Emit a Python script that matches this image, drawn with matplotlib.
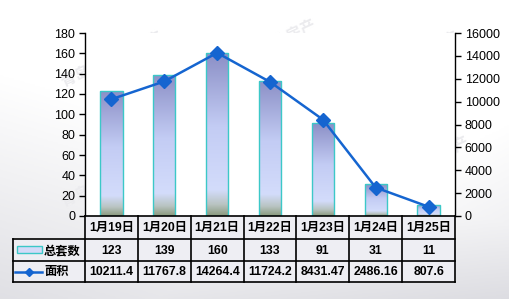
import numpy as np
import matplotlib
matplotlib.use("Agg")
import matplotlib.pyplot as plt
from matplotlib.colors import LinearSegmentedColormap
from matplotlib.patches import Rectangle

plt.rcParams['font.family'] = ['Liberation Sans', 'Noto Sans CJK SC', 'DejaVu Sans']

dates = ["1月19日", "1月20日", "1月21日", "1月22日", "1月23日", "1月24日", "1月25日"]
units = [123, 139, 160, 133, 91, 31, 11]
area = [10211.4, 11767.8, 14264.4, 11724.2, 8431.47, 2486.16, 807.6]
units_labels = ["123", "139", "160", "133", "91", "31", "11"]
area_labels = ["10211.4", "11767.8", "14264.4", "11724.2", "8431.47", "2486.16", "807.6"]
series_names = ["总套数", "面积"]

W, H = 510, 299
fig = plt.figure(figsize=(W / 100, H / 100), dpi=100)
fig.patch.set_facecolor("white")

# background soft gradient
bg = fig.add_axes([0, 0, 1, 1], zorder=-10)
yy, xx = np.mgrid[0:1:200j, 0:1:300j]
g = np.clip(0.6 * yy + 0.3 * (1 - xx) - 0.45, 0, 1) + np.clip(0.6 * yy + 0.5 * xx - 0.75, 0, 1)
g = np.clip(g, 0, 1)
bgcmap = LinearSegmentedColormap.from_list("bg", ["#ffffff", "#d6d6dc"])
bg.imshow(g, cmap=bgcmap, extent=[0, 1, 0, 1], aspect="auto", vmin=0, vmax=0.6, origin="upper")
bg.set_axis_off()

# faint watermarks
for (wx, wy) in [(0.22, 0.80), (0.52, 0.84), (0.80, 0.80), (0.22, 0.40), (0.55, 0.40), (0.82, 0.45)]:
    fig.text(wx, wy, "青岛新闻网 房产", fontsize=11, color="#ebebee", rotation=25,
             ha="center", va="center", family=["Noto Sans CJK SC"], fontweight="bold", zorder=-5)

x0, x1 = 85, 455
ytop, y0 = 33, 216
ax = fig.add_axes([x0 / W, 1 - y0 / H, (x1 - x0) / W, (y0 - ytop) / H])
ax.set_facecolor("white")
n = len(dates)
xs = np.arange(n)
bw = 0.42

bars = ax.bar(xs, units, width=bw, facecolor="none", edgecolor="#3cc8c8", linewidth=1.0, zorder=3)
bcmap = LinearSegmentedColormap.from_list(
    "bar", [(0.0, "#8b8fc6"), (0.45, "#c3ccf4"), (0.84, "#d3dcfb"), (0.93, "#b9c4c2"), (1.0, "#8a9a7e")])
grad = np.linspace(0, 1, 256).reshape(-1, 1)
for b in bars:
    bx, bwid, bh = b.get_x(), b.get_width(), b.get_height()
    im = ax.imshow(grad, cmap=bcmap, extent=[bx, bx + bwid, 0, bh], aspect="auto",
                   origin="upper", zorder=2)
    im.set_clip_path(b)

ax.set_xlim(-0.5, n - 0.5)
ax.set_ylim(0, 180)
ax.set_yticks(np.arange(0, 181, 20))
ax.set_xticks([])
for s in ["top", "right", "bottom"]:
    ax.spines[s].set_visible(False)
ax.spines["left"].set_linewidth(1.0)
ax.tick_params(axis="y", direction="out", length=4, width=1, labelsize=9, pad=3, colors="black")

ax2 = ax.twinx()
ax2.plot(xs, area, color="#1565d0", lw=1.8, marker="D", markersize=7,
         markerfacecolor="#1565d0", markeredgecolor="#1565d0", zorder=5)
ax2.set_ylim(0, 16000)
ax2.set_yticks(np.arange(0, 16001, 2000))
for s in ["top", "left", "bottom"]:
    ax2.spines[s].set_visible(False)
ax2.spines["right"].set_linewidth(1.0)
ax2.tick_params(axis="y", direction="out", length=4, width=1, labelsize=9, pad=3, colors="black")
ax2.set_xlim(-0.5, n - 0.5)

# table
tb = fig.add_axes([0, 0, 1, 1], zorder=5)
tb.set_xlim(0, W)
tb.set_ylim(H, 0)
tb.set_axis_off()
tb.patch.set_alpha(0)

r0, r1, r2, r3 = 216, 239, 261, 282
lx = 13
colw = (x1 - x0) / n
cellc = "#eeeef3"
tb.add_patch(Rectangle((x0, r0), x1 - x0, r3 - r0, facecolor=cellc, edgecolor="none"))
tb.add_patch(Rectangle((lx, r1), x0 - lx, r3 - r1, facecolor=cellc, edgecolor="none"))
lw = 1.2
for yv in [r0, r1, r2, r3]:
    tb.plot([x0 if yv == r0 else lx, x1], [yv, yv], color="black", lw=lw)
for k in range(n + 1):
    xv = x0 + k * colw
    tb.plot([xv, xv], [r0, r3], color="black", lw=lw)
tb.plot([lx, lx], [r1, r3], color="black", lw=lw)

tfs = 8.8
for i in range(n):
    cx = x0 + (i + 0.5) * colw
    tb.text(cx, (r0 + r1) / 2 + 0.5, dates[i], ha="center", va="center", fontsize=tfs, fontweight="bold")
    tb.text(cx, (r1 + r2) / 2 + 0.5, units_labels[i], ha="center", va="center", fontsize=tfs, fontweight="bold")
    tb.text(cx, (r2 + r3) / 2 + 0.5, area_labels[i], ha="center", va="center", fontsize=tfs, fontweight="bold")

# legend keys
tb.add_patch(Rectangle((17, 246), 25, 7, facecolor="#d4daf8", edgecolor="#3cc8c8", lw=1.0))
tb.text(80, (r1 + r2) / 2 + 0.5, series_names[0], ha="right", va="center", fontsize=tfs, fontweight="bold",
        family=["Noto Sans CJK SC"])
tb.plot([15, 42], [272, 272], color="#1565d0", lw=1.8)
tb.plot([29], [272], marker="D", markersize=4.5, color="#1565d0")
tb.text(44, (r2 + r3) / 2 + 0.5, series_names[1], ha="left", va="center", fontsize=tfs, fontweight="bold",
        family=["Noto Sans CJK SC"])

fig.savefig("out.png", dpi=100)
